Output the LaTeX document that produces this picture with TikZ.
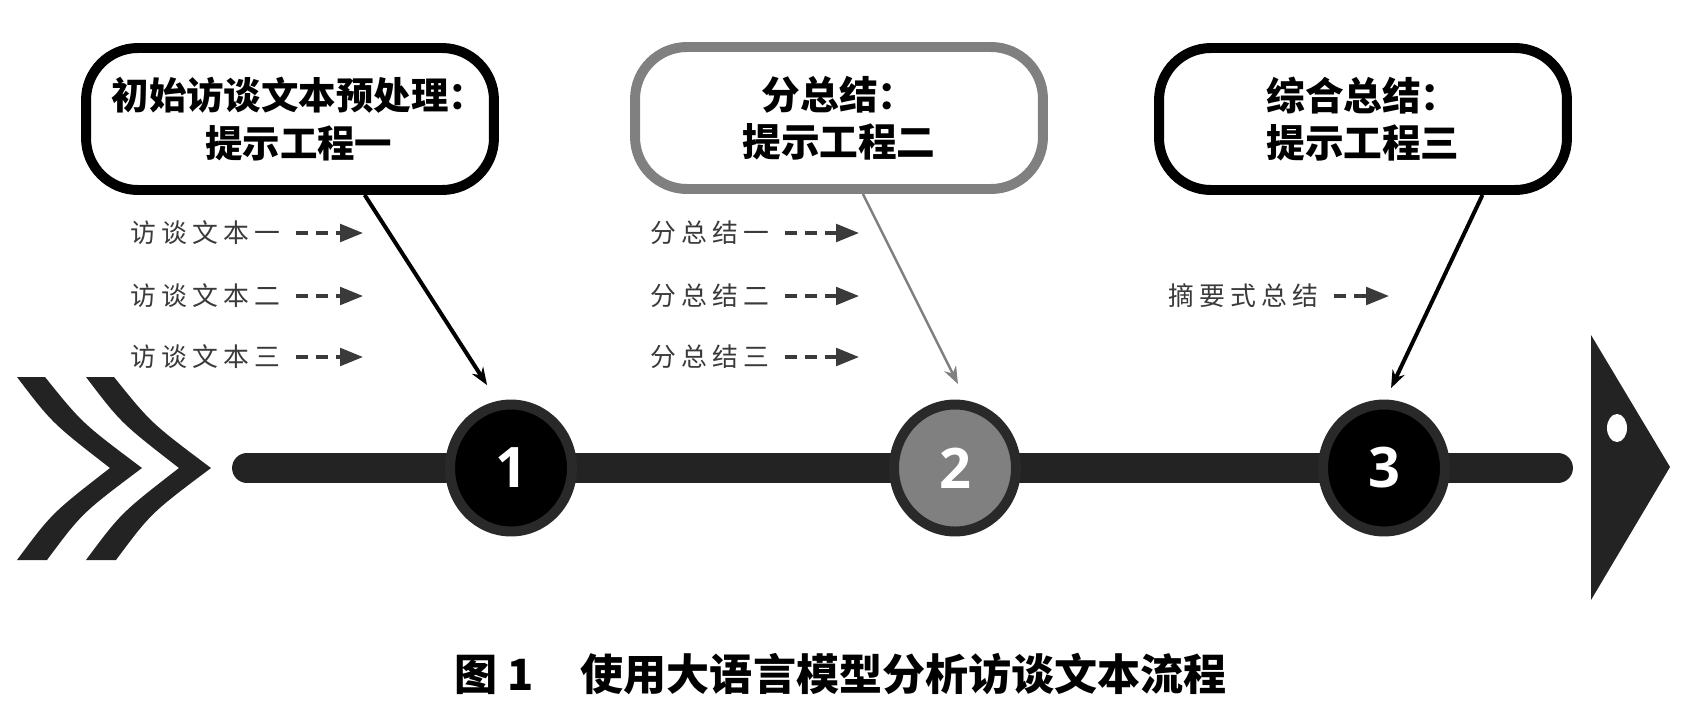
\documentclass[tikz,border=0pt]{standalone}
\usepackage{fontspec}
\usepackage{tikz}
\usetikzlibrary{arrows.meta,shapes.geometric,positioning,calc}
\newfontfamily\cjk{Noto Sans CJK SC}
\newfontfamily\cjkitem[LetterSpace=20]{Noto Sans CJK SC}
\newfontfamily\numfont{Open Sans}
\definecolor{bargray}{HTML}{232323}
\definecolor{ringgray}{HTML}{292929}
\definecolor{midgray}{HTML}{808080}
\definecolor{itemgray}{HTML}{3A3A3A}

\begin{document}
\begin{tikzpicture}[x=0.02cm,y=-0.02cm,>=Stealth,
  stage/.style={draw,line width=5.67pt,rounded corners=29.5pt,fill=white,minimum width=8.16cm,minimum height=2.84cm,align=center,inner sep=0pt,font=\cjk\bfseries\fontsize{22}{27}\selectfont},
  stepdot/.style={ellipse,draw=ringgray,line width=5.67pt,minimum width=2.44cm,minimum height=2.54cm,inner sep=0pt,text=white,font=\numfont\bfseries\fontsize{31.8}{32}\selectfont},
  item/.style={anchor=west,inner sep=0pt,text=itemgray,font=\cjkitem\fontsize{14.7}{16}\selectfont},
  dasharrow/.style={draw=itemgray,line width=1.9pt,dash pattern=on 6.8pt off 4.5pt,-{Triangle[length=13pt,width=10pt]}},
  callout/.style={line width=2.27pt,-{Stealth[length=10pt,width=7.5pt]}}]
\useasboundingbox (0,0) rectangle (1704,724);

\foreach \dx in {0,69}
  \fill[bargray,shift={(\dx,0)}] (17,377) -- (45,377) .. controls (82,423) .. (142,468) .. controls (82,513) .. (47,560) -- (17,560) .. controls (52,513) .. (110,468) .. controls (52,423) .. (17,377) -- cycle;

\coordinate (tstart) at (247,468);
\coordinate (tend) at (1558,468);
\draw[bargray,line width=17pt,line cap=round] (tstart) -- (tend);

\node[stepdot,fill=black] (num1) at (511,468) {1};
\node[stepdot,fill=midgray] (num2) at (955,468) {2};
\node[stepdot,fill=black] (num3) at (1384,468) {3};

\fill[bargray] (1591,335) -- (1670,467) -- (1591,600) -- cycle;
\fill[white] (1617,428) ellipse [x radius=10,y radius=14];

\node[stage,font=\cjk\bfseries\fontsize{21.3}{27}\selectfont] (prompt1) at (290,119) {\hspace*{10pt}初始访谈文本预处理：\\\hspace*{10pt}提示工程一};
\node[stage,draw=midgray] (prompt2) at (839,118) {分总结：\\提示工程二};
\node[stage] (prompt3) at (1363,119) {综合总结：\\提示工程三};

\draw[callout] ([xshift=42.5pt]prompt1.south) -- ([xshift=-13.6pt,yshift=8.2pt]num1.north);
\draw[callout,midgray,line width=1.4pt] ([xshift=13.6pt]prompt2.south) -- ([xshift=1.7pt,yshift=8.8pt]num2.north);
\draw[callout] ([xshift=68pt]prompt3.south) -- ([xshift=4pt,yshift=6.5pt]num3.north);

\node[item] (t11) at (130,233) {访谈文本一};
\node[item] (t12) at (130,296) {访谈文本二};
\node[item] (t13) at (130,357) {访谈文本三};
\node[item] (t21) at (650,233) {分总结一};
\node[item] (t22) at (650,296) {分总结二};
\node[item] (t23) at (650,357) {分总结三};
\node[item] (t31) at (1168,296) {摘要式总结};

\coordinate (e11) at (363,233);
\coordinate (e12) at (363,296);
\coordinate (e13) at (363,357);
\coordinate (e21) at (859,233);
\coordinate (e22) at (859,296);
\coordinate (e23) at (859,357);
\coordinate (e31) at (1389,296);
\draw[dasharrow] ([xshift=9pt]t11.east) -- (e11);
\draw[dasharrow] ([xshift=9pt]t12.east) -- (e12);
\draw[dasharrow] ([xshift=9pt]t13.east) -- (e13);
\draw[dasharrow] ([xshift=9pt]t21.east) -- (e21);
\draw[dasharrow] ([xshift=9pt]t22.east) -- (e22);
\draw[dasharrow] ([xshift=9pt]t23.east) -- (e23);
\draw[dasharrow] ([xshift=9pt]t31.east) -- (e31);

\node[anchor=west,inner sep=0pt,font=\cjk\bfseries\fontsize{24.5}{26}\selectfont] (caption) at (454,674) {图 1\hspace{1.1em}使用大语言模型分析访谈文本流程};
\end{tikzpicture}
\end{document}
